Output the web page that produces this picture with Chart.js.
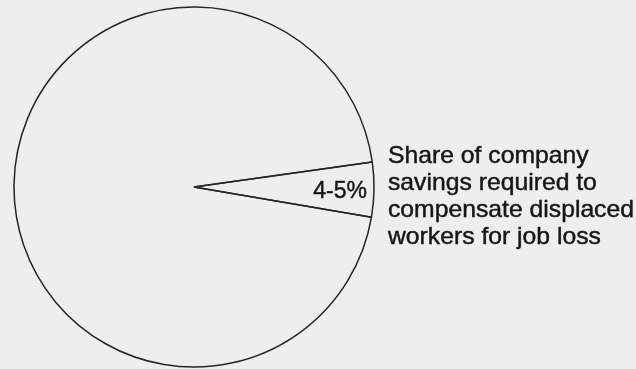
<!DOCTYPE html>
<html>
<head>
<meta charset="utf-8">
<script src="https://cdn.jsdelivr.net/npm/chart.js@4"></script>
<style>
  html, body { margin: 0; padding: 0; background: #eeeeec; }
  #wrap { width: 636px; height: 369px; }
</style>
</head>
<body>
<div id="wrap"><canvas id="graficoParcela" width="636" height="369"></canvas></div>
<script>
// dados
var categorias = ['Share of company savings required to compensate displaced workers for job loss', 'Rest of company savings'];
var valores = [4.9, 95.1];
var rotuloFatia = '4-5%';
var linhasNota = ['Share of company', 'savings required to', 'compensate displaced', 'workers for job loss'];

var fonte = '"Liberation Sans", Arial, sans-serif';

// escreve o texto um pouco mais largo e mais cheio, como no original
function escreve(ctx, texto, x, y, escalaX) {
	ctx.save();
	ctx.translate(x, y);
	ctx.scale(escalaX, 1);
	ctx.fillText(texto, 0, 0);
	ctx.strokeText(texto, 0, 0);
	ctx.restore();
}

var pluginTextos = {
	id: 'textos',
	afterDraw: function(chart) {
		var arco = chart.getDatasetMeta(0).data[0];
		var ctx = chart.ctx;
		var r = arco.outerRadius;
		ctx.save();
		ctx.fillStyle = '#161616';
		ctx.strokeStyle = '#161616';
		ctx.lineWidth = 0.45;
		ctx.textBaseline = 'alphabetic';

		ctx.font = '23px ' + fonte;
		ctx.textAlign = 'right';
		escreve(ctx, rotuloFatia, arco.x + r - 7, arco.y + 11, 1);

		ctx.font = '24px ' + fonte;
		ctx.textAlign = 'left';
		linhasNota.forEach(function(linha, i) {
			escreve(ctx, linha, arco.x + r + 14, arco.y - 24 + i * 27, 1.03);
		});
		ctx.restore();
	}
};

var grafico = new Chart(document.getElementById('graficoParcela').getContext('2d'), {
	type: 'pie',
	data: {
		labels: categorias,
		datasets: [{
			data: valores,
			backgroundColor: 'rgba(0,0,0,0)',
			borderColor: '#262626',
			borderWidth: 1.5
		}]
	},
	options: {
		responsive: false,
		animation: false,
		rotation: 82,
		radius: 180,
		layout: { padding: { left: 14, top: 7, right: 262, bottom: 2 } },
		plugins: {
			legend: { display: false },
			tooltip: { enabled: false }
		}
	},
	plugins: [pluginTextos]
});
</script>
</body>
</html>
